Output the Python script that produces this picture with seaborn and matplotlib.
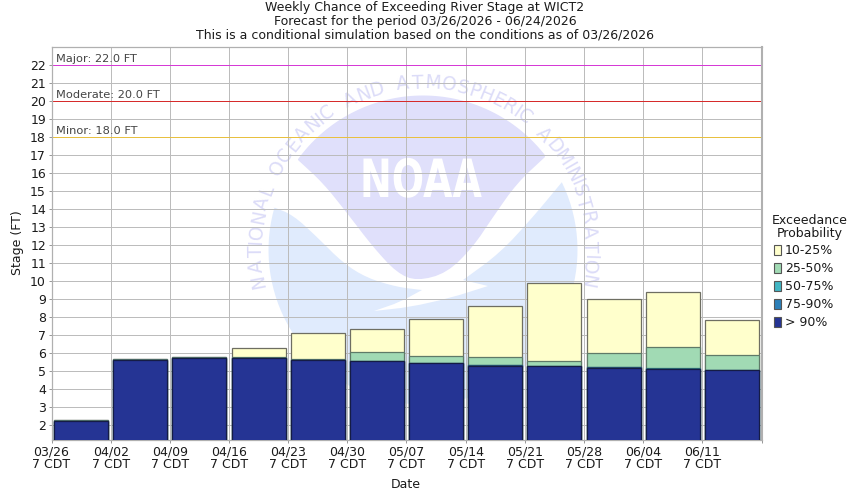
import matplotlib
matplotlib.use("Agg")
import matplotlib.pyplot as plt
import seaborn as sns
import numpy as np
from matplotlib.patches import Patch, Polygon
from matplotlib.patheffects import AbstractPathEffect
from matplotlib.textpath import TextPath
from matplotlib.transforms import Affine2D

# Weekly stage values (top of each band, FT)
dates = ["03/26", "04/02", "04/09", "04/16", "04/23", "04/30",
         "05/07", "05/14", "05/21", "05/28", "06/04", "06/11"]
top_90 = [2.22, 5.59, 5.72, 5.72, 5.59, 5.54, 5.43, 5.31, 5.26, 5.20, 5.09, 5.04]
top_75 = [2.24, 5.62, 5.74, 5.74, 5.62, 5.55, 5.44, 5.33, 5.28, 5.23, 5.12, 5.06]
top_50 = [2.25, 5.64, 5.75, 5.75, 5.64, 5.56, 5.45, 5.34, 5.30, 5.25, 5.20, 5.08]
top_25 = [2.26, 5.65, 5.76, 5.76, 5.65, 6.04, 5.82, 5.76, 5.54, 5.98, 6.32, 5.87]
top_10 = [2.27, 5.65, 5.76, 6.26, 7.09, 7.32, 7.87, 8.59, 9.87, 8.98, 9.37, 7.82]

y_ticks = list(range(2, 23))
band_labels = ["10-25%", "25-50%", "50-75%", "75-90%", "> 90%"]
band_colors = ["#ffffcc", "#a1dab4", "#41b6c4", "#2c7fb8", "#253494"]
band_edges = ["#6e6e62", "#5f7a68", "#2f6f78", "#25506f", "#151c45"]
flood_levels = [22.0, 20.0, 18.0]
flood_names = ["Major", "Moderate", "Minor"]
flood_colors = ["#d63ad6", "#d62b2b", "#e8c040"]

sns.set_theme(style="white")
plt.rcParams["font.family"] = ["DejaVu Sans"]
text_col = "#1a1a1a"
fs = 9.0


class SqueezeX(AbstractPathEffect):
    # narrows a text horizontally around a fixed pixel column
    def __init__(self, cx, sx):
        super().__init__()
        self.cx, self.sx = cx, sx

    def draw_path(self, renderer, gc, tpath, affine, rgbFace=None):
        squeeze = Affine2D().translate(-self.cx, 0).scale(self.sx, 1).translate(self.cx, 0)
        renderer.draw_path(gc, tpath, affine + squeeze, rgbFace)


def smooth(pts, rounds=2):
    # corner cutting, end points stay put
    pts = np.array(pts, dtype=float)
    for _ in range(rounds):
        q = 0.75 * pts[:-1] + 0.25 * pts[1:]
        r = 0.25 * pts[:-1] + 0.75 * pts[1:]
        mid = np.empty((2 * len(q), 2))
        mid[0::2], mid[1::2] = q, r
        pts = np.vstack([pts[0], mid, pts[-1]])
    return pts


def arc(a0, a1, radius=154.5, n=80):
    # angles clockwise from the top of the seal, image pixels
    t = np.radians(np.linspace(a0, a1, n))
    return np.column_stack([423 + radius * np.sin(t), 250 - radius * np.cos(t)])


fig = plt.figure(figsize=(8.5, 5.0), dpi=100)
ax = fig.add_axes([51.5 / 850, 1 - 439.5 / 500, 710 / 850, 392.5 / 500])

# NOAA watermark, placed in image pixels
px = Affine2D().scale(1, -1).translate(0, 500)
left_edge = smooth([(273, 207), (293, 215), (317, 237), (343, 263), (367, 278), (397, 287), (422, 290)])
tongue = smooth([(422, 290), (400, 302), (374, 311)], 1)
swoosh = smooth([(374, 311), (410, 307), (450, 298), (488, 286)], 1)
right_edge = smooth([(463, 280), (500, 253), (533, 217), (562, 182)])
blue_pts = np.vstack([left_edge, tongue, swoosh, right_edge, arc(64, 286)])
lav_low = smooth([(545, 157), (517, 183), (493, 217), (473, 247), (447, 273), (417, 281),
                  (397, 273), (373, 247), (347, 213), (323, 183), (298, 160)])
lav_pts = np.vstack([arc(-54, 52), lav_low])
ax.add_patch(Polygon(blue_pts, closed=True, fc="#e0ebfd", ec="none", transform=px, zorder=0.2))
ax.add_patch(Polygon(lav_pts, closed=True, fc="#e0e0fb", ec="none", transform=px, zorder=0.2))
ax.text(421, 197, "NOAA", color="white", fontsize=38, fontweight="bold", transform=px,
        ha="center", va="baseline", zorder=0.3, path_effects=[SqueezeX(421, 0.72)])

seal = "NATIONAL OCEANIC AND ATMOSPHERIC ADMINISTRATION"
widths = [TextPath((0, 0), c if c != " " else "n", size=12).get_extents().width + 1.5 for c in seal]
edges = np.cumsum([0] + widths)
angles = -103 + 206 * (edges[:-1] + np.array(widths) / 2) / edges[-1]
for c, a in zip(seal, angles):
    r = np.radians(a)
    ax.text(423 + 167 * np.sin(r), 250 - 167 * np.cos(r), c, transform=px, color="#dcdcf8",
            fontsize=13.5, rotation=-a, rotation_mode="anchor", ha="center", va="center", zorder=0.3)

# Stacked bands: tallest first so each lower band covers the one before
tops = [top_10, top_25, top_50, top_75, top_90]
for vals, col, edge in zip(tops, band_colors, band_edges):
    sns.barplot(x=dates, y=vals, color=col, saturation=1, width=0.915,
                edgecolor=edge, linewidth=0.9, ax=ax, zorder=3)

ax.set_xlim(-0.5, 11.5)
ax.set_ylim(1.2, 23.006)
ax.set_axisbelow(True)
ax.grid(True, color="#bcbcbc", linewidth=0.72)
ax.set_xticks(np.arange(len(dates) + 1) - 0.5)
ax.set_xticklabels([d + "\n7 CDT" for d in dates] + [""], fontsize=fs, color=text_col, linespacing=1.0)
ax.set_yticks(y_ticks)
ax.set_yticklabels(y_ticks, fontsize=fs, color=text_col)
ax.tick_params(axis="both", length=2.5, width=0.72, color="#9a9a9a", pad=1.5, bottom=True, left=True)
for side in ax.spines.values():
    side.set_visible(True)
    side.set_color("#b0b0b0")
    side.set_linewidth(0.9)
ax.spines["right"].set_linewidth(1.5)

for lvl, name, col in zip(flood_levels, flood_names, flood_colors):
    ax.axhline(lvl, color=col, linewidth=0.72, zorder=2)
    ax.annotate(f"{name}: {lvl:.1f} FT", (0, lvl), xycoords=("axes fraction", "data"),
                xytext=(3, 2.5), textcoords="offset points", fontsize=8.2, color="#444444")

fig.text(406 / 850, 1 - 485 / 500, "Date", fontsize=fs, color=text_col, ha="center", va="center")
fig.text(18 / 850, 1 - 243 / 500, "Stage (FT)", fontsize=fs, color=text_col, rotation=90,
         ha="center", va="center")

title_lines = ["Weekly Chance of Exceeding River Stage at WICT2",
               "Forecast for the period 03/26/2026 - 06/24/2026",
               "This is a conditional simulation based on the conditions as of 03/26/2026"]
for line, y_px in zip(title_lines, [7, 21, 35]):
    fig.text(425 / 850, 1 - y_px / 500, line, fontsize=fs, color=text_col, ha="center", va="center")

fig.text(810 / 850, 1 - 220 / 500, "Exceedance", fontsize=fs, color=text_col, ha="center", va="center")
fig.text(810 / 850, 1 - 234 / 500, "Probability", fontsize=fs, color=text_col, ha="center", va="center")
handles = [Patch(fc=c, ec="#555555", lw=0.8) for c in band_colors]
leg = fig.legend(handles, band_labels, frameon=False, loc="upper left",
                 bbox_to_anchor=(774 / 850, 1 - 244 / 500), fontsize=fs,
                 handlelength=0.55, handleheight=0.85, handletextpad=0.3,
                 labelspacing=0.4, borderpad=0, borderaxespad=0)
for t in leg.get_texts():
    t.set_color(text_col)

fig.savefig("out.png", dpi=100)
